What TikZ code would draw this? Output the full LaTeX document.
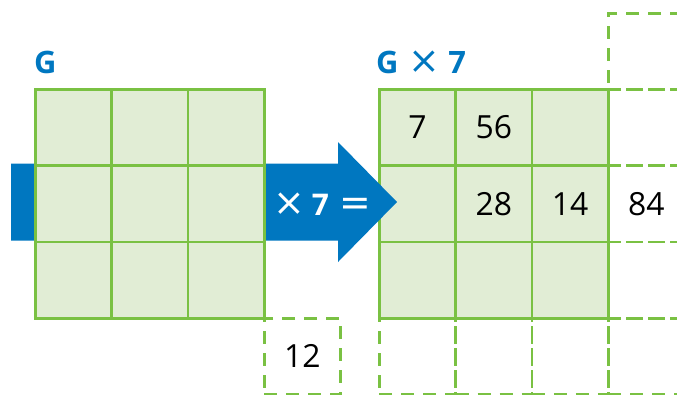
\documentclass[tikz,border=0pt]{standalone}
\usepackage{fontspec}
\setmainfont{Open Sans}
\newfontfamily\djv{DejaVu Sans}
\definecolor{gline}{HTML}{7AC143}
\definecolor{gfill}{HTML}{E1EDD5}
\definecolor{ablue}{HTML}{0077C0}
\newcommand{\bigx}{{\djv\mdseries\fontsize{38}{38}\selectfont ×}}
\newcommand{\bigeq}{{\djv\mdseries\fontsize{38}{38}\selectfont =}}
\begin{document}
\begin{tikzpicture}[x=1bp,y=-1bp,
  cell/.style={draw=gline,fill=gfill,line width=2.6bp,minimum size=76.3bp,inner sep=0pt,anchor=north west,font=\fontsize{32}{36}\selectfont},
  dcell/.style={draw=gline,dash pattern=on 13bp off 9bp,line width=2.6bp,minimum size=76.3bp,inner sep=0pt,anchor=north west,font=\fontsize{32}{36}\selectfont},
  title/.style={text=ablue,font=\bfseries\fontsize{31}{34}\selectfont,anchor=base west,inner sep=0pt}]
\useasboundingbox (0,0) rectangle (677,394);
\clip (0,0) rectangle (677,394);
% dashed cells
\node[dcell] (d12) at (263,316.9) {12};
\node[dcell] (r0) at (607,11.9) {};
\node[dcell] (r1) at (607,88) {};
\node[dcell] (r2) at (607,164.3) {84};
\node[dcell] (r3) at (607,240.6) {};
\node[dcell] (r4) at (607,316.9) {};
\node[dcell] (b1) at (378,316.9) {};
\node[dcell] (b2) at (454.3,316.9) {};
\node[dcell] (b3) at (530.6,316.9) {};
% right grid
\node[cell] (R00) at (378,88) {7};
\node[cell] (R10) at (454.3,88) {56};
\node[cell] (R20) at (530.6,88) {};
\node[cell] (R01) at (378,164.3) {};
\node[cell] (R11) at (454.3,164.3) {28};
\node[cell] (R21) at (530.6,164.3) {14};
\node[cell] (R02) at (378,240.6) {};
\node[cell] (R12) at (454.3,240.6) {};
\node[cell] (R22) at (530.6,240.6) {};
% arrow
\fill[ablue] (11,163.5) -- (338,163.5) -- (338,142) -- (397,202) -- (338,262) -- (338,240.5) -- (11,240.5) -- cycle;
\node[text=white,font=\bfseries\fontsize{30}{34}\selectfont,inner sep=0pt,anchor=base west] (op) at (273,215) {\bigx\hspace{7bp}7\hspace{11bp}\bigeq};
% left grid
\foreach \i in {0,1,2}{\foreach \j in {0,1,2}{
  \node[cell] (L\i\j) at (34+76.3*\i,88+76.3*\j) {};
}}
% titles
\node[title] (tG) at (34,73) {G};
\node[title] (tG7) at (376,73) {G\hspace{10bp}\bigx\hspace{8bp}7};
\end{tikzpicture}
\end{document}
